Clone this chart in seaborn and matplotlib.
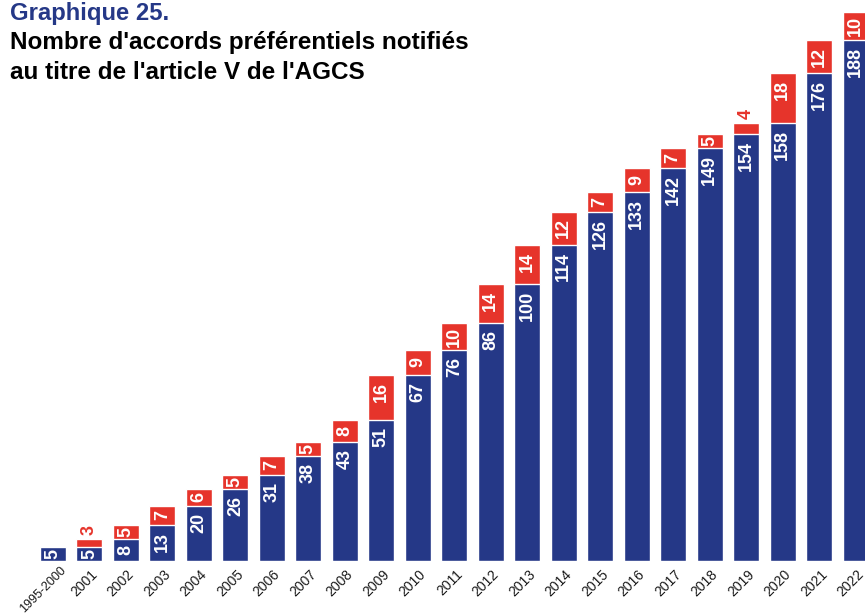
import matplotlib
matplotlib.use("Agg")
import matplotlib.pyplot as plt
from matplotlib.transforms import ScaledTranslation
import seaborn as sns
import pandas as pd

# Notified preferential agreements under GATS Article V
periods = ["1995-2000", "2001", "2002", "2003", "2004", "2005", "2006", "2007",
           "2008", "2009", "2010", "2011", "2012", "2013", "2014", "2015",
           "2016", "2017", "2018", "2019", "2020", "2021", "2022"]
cumulative = [5, 5, 8, 13, 20, 26, 31, 38, 43, 51, 67, 76, 86, 100, 114, 126,
              133, 142, 149, 154, 158, 176, 188]
new_in_year = [0, 3, 5, 7, 6, 5, 7, 5, 8, 16, 9, 10, 14, 14, 12, 7, 9, 7, 5, 4,
               18, 12, 10]

NAVY = "#253887"
RED = "#e6342b"

df = pd.DataFrame({"period": periods, "cumulative": cumulative, "new": new_in_year})
df["total"] = df["cumulative"] + df["new"]

sns.set_theme(style="white")
plt.rcParams["font.family"] = ["Liberation Sans", "DejaVu Sans"]

DPI = 100
fig = plt.figure(figsize=(8.65, 6.15), dpi=DPI)
ax = fig.add_axes([0, 54 / 615, 1, 561 / 615])

bar_w = 0.713
sns.barplot(data=df, x="period", y="total", color=RED, width=bar_w,
            saturation=1, ax=ax, order=periods)
sns.barplot(data=df, x="period", y="cumulative", color=NAVY, width=bar_w,
            saturation=1, ax=ax, order=periods)

ax.set_xlim(-1.453, 22.259)
ax.set_ylim(0, 202.45)
for s in ax.spines.values():
    s.set_visible(False)
ax.set_xlabel("")
ax.set_ylabel("")
ax.set_yticks([])

# value labels, rotated, inside the segments
px_per_unit = 561 / 202.45
fs = 13
fs_px = fs * DPI / 72
to_pt = 72 / DPI


def seg_label(x, top, value, seg_units):
    seg_h = seg_units * px_per_unit
    tl = len(str(value)) * 0.556 * fs_px
    pad = min(7, max(0, (seg_h - tl) / 2))
    ax.annotate(str(value), xy=(x, top), xytext=(0, -pad * to_pt),
                textcoords="offset points", rotation=90, ha="center",
                va="top", color="white", fontsize=fs, fontweight="bold")


for i, (b, r) in enumerate(zip(cumulative, new_in_year)):
    seg_label(i, b, b, b)
    if r == 0:
        continue
    if r >= 5:
        seg_label(i, b + r, r, r)
    else:
        ax.annotate(str(r), xy=(i, b + r), xytext=(0, 4 * to_pt),
                    textcoords="offset points", rotation=90, ha="center",
                    va="bottom", color=RED, fontsize=fs, fontweight="bold")

# category labels; the long first label is set a bit smaller and nudged
# up/right so it stays on the canvas
ax.set_xticks(range(len(periods)))
ax.set_xticklabels(periods, rotation=45, ha="right", va="top",
                   rotation_mode="anchor", fontsize=10, color="#1a1a1a")
ax.tick_params(axis="x", length=0, pad=4.5)
for k, lab in enumerate(ax.get_xticklabels()):
    if k == 0:
        lab.set_fontsize(9)
        dx, dy = 7, 3
    else:
        dx, dy = 1, 0
    lab.set_transform(lab.get_transform()
                      + ScaledTranslation(dx / DPI, dy / DPI, fig.dpi_scale_trans))

# headings
fig.text(10 / 865, 1 - 2 / 615, "Graphique 25.", ha="left", va="top",
         fontsize=17.2, fontweight="bold", color=NAVY)
fig.text(10 / 865, 1 - 31 / 615, "Nombre d'accords préférentiels notifiés\nau titre de l'article V de l'AGCS",
         ha="left", va="top", fontsize=17.5, fontweight="bold", color="black",
         linespacing=1.39)

fig.savefig("out.png", dpi=DPI)
